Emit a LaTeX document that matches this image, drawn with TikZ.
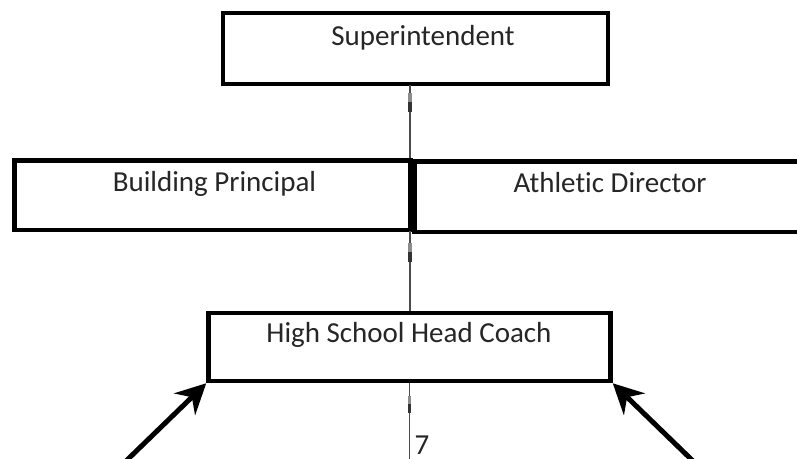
\documentclass[tikz,border=0pt]{standalone}
\usepackage{fontspec}
\setmainfont[Ligatures={NoCommon,NoRare,NoContextual}]{Carlito}
\usetikzlibrary{arrows.meta}
\begin{document}
\begin{tikzpicture}[x=1pt,y=-1pt,
  orgbox/.style={draw=black, line width=4.5pt, fill=white, inner sep=0pt},
  lbl/.style={font=\fontsize{29}{31}\selectfont, text=black!85, anchor=base, inner sep=0pt},
  conn/.style={draw=black!70, line width=1.4pt},
  tick/.style={draw=black!80, line width=3.5pt},
  arr/.style={draw=black, line width=5pt, -{Stealth[length=30pt,width=30pt,inset=10pt]}}]
\useasboundingbox (0,0) rectangle (797,458);
\clip (0,0) rectangle (797,458);
% boxes
\node[orgbox, minimum width=385pt, minimum height=71pt] (sup) at (415.5,48.5) {};
\node[orgbox, minimum width=396pt, minimum height=69.5pt] (bp) at (212.5,195.25) {};
\node[orgbox, minimum width=396pt, minimum height=70.5pt] (ad) at (612.5,196.75) {};
\node[orgbox, minimum width=402pt, minimum height=68pt] (hc) at (409.5,347) {};
% labels
\node[lbl] (tsup) at (423,45) {Superintendent};
\node[lbl] (tbp) at (214.5,191) {Building Principal};
\node[lbl] (tad) at (610,192) {Athletic Director};
\node[lbl] (thc) at (409,342) {High School Head Coach};
\node[lbl, anchor=base west] (pg) at (414.5,454) {7};
% connectors
\coordinate (j1) at (410,84.5);
\coordinate (j2) at (410,231);
\coordinate (bot) at (409.5,462);
\draw[conn] (j1) -- (j1 |- bp.north);
\draw[conn] (j2) -- (j2 |- hc.north);
\draw[conn] (hc.south) -- (bot);
\draw[tick, draw=black!45] (410,93) -- (410,102);
\draw[tick] (410,102) -- (410,112);
\draw[tick, draw=black!45] (410,243) -- (410,252);
\draw[tick] (410,252) -- (410,262);
\draw[tick, draw=black!45] (409.5,396) -- (409.5,404);
\draw[tick] (409.5,404) -- (409.5,413);
% arrows
\coordinate (la) at (125,462);
\coordinate (ra) at (694,462);
\draw[arr] (la) -- (hc.south west);
\draw[arr] (ra) -- (hc.south east);
\end{tikzpicture}
\end{document}
